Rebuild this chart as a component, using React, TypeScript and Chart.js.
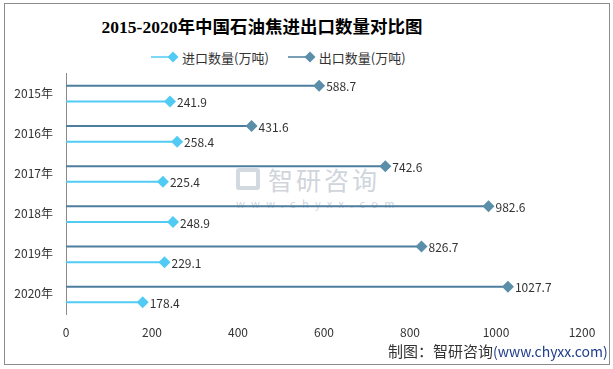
import React, { useEffect, useRef } from "react";
import { Chart, registerables } from "chart.js";

Chart.register(...registerables);

const years = ["2015年", "2016年", "2017年", "2018年", "2019年", "2020年"];
const importVals = [241.9, 258.4, 225.4, 248.9, 229.1, 178.4];
const exportVals = [588.7, 431.6, 742.6, 982.6, 826.7, 1027.7];
const importLabel = "进口数量(万吨)";
const exportLabel = "出口数量(万吨)";
const xTicks = [0, 200, 400, 600, 800, 1000, 1200];

const IMPORT_COLOR = "#52CBF4";
const EXPORT_COLOR = "#5A8EA9";
const EXPORT_LINE = "#4E7E9E";
const EXPORT_OFF = -0.18;
const IMPORT_OFF = 0.21;
const FONT = '"Noto Sans CJK SC", "Liberation Sans", sans-serif';

const valueLabels = {
  id: "valueLabels",
  afterDatasetsDraw(chart: any) {
    const ctx = chart.ctx;
    ctx.save();
    ctx.font = `12px ${FONT}`;
    ctx.fillStyle = "#333333";
    ctx.textAlign = "left";
    ctx.textBaseline = "middle";
    chart.data.datasets.forEach((ds: any, di: number) => {
      const meta = chart.getDatasetMeta(di);
      const el = meta.data[1];
      if (!el) return;
      ctx.fillText(String(ds.value), el.x + 7, el.y + 1);
    });
    ctx.restore();
  },
};

function LegendItem({ color, line, label }: { color: string; line: string; label: string }) {
  return (
    <div style={{ display: "flex", alignItems: "center", marginRight: 19 }}>
      <svg width={29} height={14} style={{ marginRight: 2 }}>
        <line x1={0} y1={7} x2={22} y2={7} stroke={line} strokeWidth={1.5} />
        <polygon points="22,1.5 27.5,7 22,12.5 16.5,7" fill={color} />
      </svg>
      <span style={{ fontSize: 13, color: "#333", fontFamily: FONT }}>{label}</span>
    </div>
  );
}

export default function App() {
  const ref = useRef<HTMLCanvasElement | null>(null);

  useEffect(() => {
    if (!ref.current) return;
    const datasets: any[] = [];
    years.forEach((_, i) => {
      datasets.push({
        label: exportLabel,
        value: exportVals[i],
        data: [
          { x: 0, y: i + EXPORT_OFF },
          { x: exportVals[i], y: i + EXPORT_OFF },
        ],
        showLine: true,
        borderColor: EXPORT_LINE,
        borderWidth: 2,
        backgroundColor: EXPORT_COLOR,
        pointBackgroundColor: EXPORT_COLOR,
        pointBorderColor: EXPORT_COLOR,
        pointStyle: "rectRot",
        pointRadius: [0, 6],
        pointBorderWidth: 0,
      });
      datasets.push({
        label: importLabel,
        value: importVals[i],
        data: [
          { x: 0, y: i + IMPORT_OFF },
          { x: importVals[i], y: i + IMPORT_OFF },
        ],
        showLine: true,
        borderColor: IMPORT_COLOR,
        borderWidth: 2,
        backgroundColor: IMPORT_COLOR,
        pointBackgroundColor: IMPORT_COLOR,
        pointBorderColor: IMPORT_COLOR,
        pointStyle: "rectRot",
        pointRadius: [0, 6],
        pointBorderWidth: 0,
      });
    });

    const chart = new Chart(ref.current, {
      type: "scatter",
      data: { datasets },
      plugins: [valueLabels],
      options: {
        animation: false,
        responsive: false,
        maintainAspectRatio: false,
        layout: { padding: { left: 0, right: 31, top: 73, bottom: 24 } },
        plugins: {
          legend: { display: false },
          tooltip: { enabled: false },
          title: { display: false },
        },
        scales: {
          x: {
            type: "linear",
            min: 0,
            max: 1200,
            afterBuildTicks: (axis: any) => {
              axis.ticks = xTicks.map((v) => ({ value: v }));
            },
            grid: { display: false, drawTicks: false },
            border: { display: false },
            ticks: {
              padding: 11,
              color: "#333333",
              font: { family: FONT, size: 12 },
              maxRotation: 0,
              callback: (v: any) => String(v),
            },
            afterFit: (s: any) => {
              s.height = 31;
            },
          },
          y: {
            type: "linear",
            reverse: true,
            min: -0.5,
            max: 5.5,
            afterBuildTicks: (axis: any) => {
              axis.ticks = years.map((_, i) => ({ value: i }));
            },
            grid: { display: false, drawTicks: false },
            border: { display: true, color: "#8a8a8a", width: 1 },
            ticks: {
              padding: 13,
              color: "#333333",
              font: { family: FONT, size: 12 },
              callback: (v: any) => years[v] ?? "",
            },
            afterFit: (s: any) => {
              s.width = 66;
            },
          },
        },
      } as any,
    });
    return () => chart.destroy();
  }, []);

  return (
    <div style={{ position: "fixed", left: 0, top: 0, width: 613, height: 369, background: "#fff" }}>
      <div
        style={{
          position: "absolute",
          left: 4,
          top: 3,
          width: 604,
          height: 360,
          border: "1px solid #8c8c8c",
          boxSizing: "content-box",
        }}
      />
      <div
        style={{
          position: "absolute",
          left: 12,
          top: 0,
          width: 500,
          height: 50,
          display: "flex",
          alignItems: "center",
          justifyContent: "center",
          fontFamily: '"Liberation Serif", "Noto Sans CJK SC", serif',
          fontWeight: "bold",
          fontSize: 17.5,
          color: "#000",
        }}
      >
        2015-2020年中国石油焦进出口数量对比图
      </div>
      <div
        style={{
          position: "absolute",
          left: 151,
          top: 48,
          height: 18,
          display: "flex",
          alignItems: "center",
        }}
      >
        <LegendItem color={IMPORT_COLOR} line={IMPORT_COLOR} label={importLabel} />
        <LegendItem color={EXPORT_COLOR} line={EXPORT_LINE} label={exportLabel} />
      </div>
      <div
        style={{
          position: "absolute",
          left: 236,
          top: 161,
          color: "#d0d5dc",
          fontFamily: FONT,
          pointerEvents: "none",
        }}
      >
        <div style={{ display: "flex", alignItems: "center" }}>
          <div
            style={{
              width: 24,
              height: 22,
              border: "4px solid #d3d9e1",
              borderRadius: 3,
              boxSizing: "border-box",
              marginRight: 8,
            }}
          />
          <span style={{ fontSize: 25, letterSpacing: 3 }}>智研咨询</span>
        </div>
        <div style={{ fontSize: 11, letterSpacing: 6.3, marginTop: -2 }}>www.chyxx.com</div>
      </div>
      <canvas ref={ref} width={613} height={369} style={{ position: "absolute", left: 0, top: 0 }} />
      <div
        style={{
          position: "absolute",
          left: 388,
          top: 341,
          fontFamily: FONT,
          fontSize: 15,
          color: "#333",
          whiteSpace: "nowrap",
          lineHeight: "20px",
        }}
      >
        制图：智研咨询<span style={{ color: "#1F3D8A", fontSize: 14 }}>(www.chyxx.com)</span>
      </div>
    </div>
  );
}
